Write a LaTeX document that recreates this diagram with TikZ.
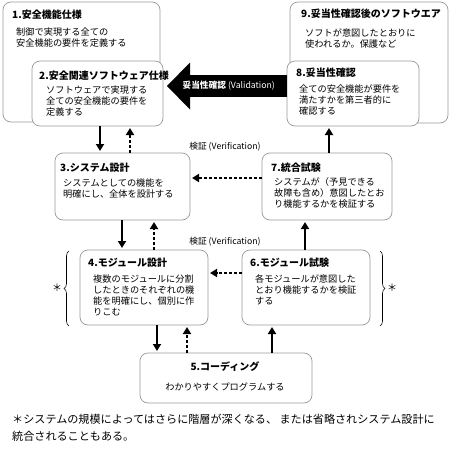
\documentclass[tikz,border=0pt]{standalone}
\usepackage{fontspec}
\setmainfont{Noto Sans CJK JP}
\usetikzlibrary{arrows.meta,decorations.pathreplacing}
\tikzset{
  stage/.style={rectangle, draw=black!40, line width=0.7pt, rounded corners=8pt, fill=white, anchor=north west, inner sep=0pt, outer sep=0pt},
  stagetitle/.style={anchor=west, inner sep=0pt, font=\fontsize{10}{12}\selectfont\bfseries},
  stagetext/.style={anchor=north west, inner sep=0pt, align=left, font=\fontsize{9.2}{11}\selectfont},
  flow/.style={line width=2pt, -{Triangle[length=7pt,width=8pt]}, shorten >=2pt},
  back/.style={flow, dash pattern=on 3pt off 2pt},
  valid/.style={line width=22pt, -{Triangle[length=23pt,width=47pt,line width=0pt]}, shorten >=4pt},
  bracket/.style={decorate, decoration={brace, amplitude=5pt}, line width=0.6pt},
}
\begin{document}
\begin{tikzpicture}[x=1pt, y=-1pt]
  \useasboundingbox (0,0) rectangle (450,450);
  % Nodes
  \node (b1) [stage, minimum width=157pt, minimum height=120pt] at (3,2) {};
  \node (t1) [stagetitle] at (12,15) {1.安全機能仕様};
  \node (x1) [stagetext] at (16,27.5) {制御で実現する全ての\\安全機能の要件を定義する};
  \node (b2) [stage, minimum width=131pt, minimum height=65pt] at (32,61) {};
  \node (t2) [stagetitle] at (39,76) {2.安全関連ソフトウェア仕様};
  \node (x2) [stagetext] at (46,85.5) {ソフトウェアで実現する\\全ての安全機能の要件を\\定義する};
  \node (b9) [stage, minimum width=158pt, minimum height=121pt] at (290,2) {};
  \node (t9) [stagetitle] at (301,14) {9.妥当性確認後のソフトウエア};
  \node (x9) [stagetext] at (305,28.5) {ソフトが意図したとおりに\\使われるか。保護など};
  \node (b8) [stage, minimum width=132pt, minimum height=65pt] at (287,61) {};
  \node (t8) [stagetitle] at (296,73) {8.妥当性確認};
  \node (x8) [stagetext] at (299,84.5) {全ての安全機能が要件を\\満たすかを第三者的に\\確認する};
  \node (b3) [stage, minimum width=135pt, minimum height=67pt] at (55,153) {};
  \node (t3) [stagetitle] at (60,168) {3.システム設計};
  \node (x3) [stagetext] at (63,178.5) {システムとしての機能を\\明確にし、全体を設計する};
  \node (b7) [stage, minimum width=130pt, minimum height=67pt] at (262,153) {};
  \node (t7) [stagetitle] at (271,168) {7.統合試験};
  \node (x7) [stagetext] at (274,177.5) {システムが（予見できる\\故障も含め）意図したとお\\り機能するかを検証する};
  \node (b4) [stage, minimum width=128pt, minimum height=75pt] at (80,250) {};
  \node (t4) [stagetitle] at (88,263) {4.モジュール設計};
  \node (x4) [stagetext] at (93,274.5) {複数のモジュールに分割\\したときのそれぞれの機\\能を明確にし、個別に作\\りこむ};
  \node (b6) [stage, minimum width=128pt, minimum height=75pt] at (242,250) {};
  \node (t6) [stagetitle] at (250,263) {6.モジュール試験};
  \node (x6) [stagetext] at (255,274.5) {各モジュールが意図した\\とおり機能するかを検証\\する};
  \node (b5) [stage, minimum width=172pt, minimum height=50pt] at (140,353) {};
  \node (t5) [stagetitle, anchor=center] at (225,367) {5.コーディング};
  \node (x5) [stagetext, anchor=center] at (225,387) {わかりやすくプログラムする};
  % Labels
  \node (v1) [font=\fontsize{8.7}{10}\selectfont] at (225,147) {検証 (Verification)};
  \node (v2) [font=\fontsize{8.7}{10}\selectfont] at (225,242) {検証 (Verification)};
  \node (s1) [font=\fontsize{10}{12}\selectfont] at (57,288) {＊};
  \node (s2) [font=\fontsize{10}{12}\selectfont] at (392,288) {＊};
  \node (fn) [anchor=north west, inner sep=0pt, align=left, font=\fontsize{11.1}{17}\selectfont] at (12,414) {＊システムの規模によってはさらに階層が深くなる、 または省略されシステム設計に\\統合されることもある。};
  % Arrow
  \draw[valid] ([yshift=7.5pt]b8.west) -- ([yshift=7.5pt]b2.east)
    node[pos=0.47, text=white, font=\fontsize{8.7}{10}\selectfont] {\textbf{妥当性確認} (Validation)};
  \draw[flow] (b2.south -| 100,0) -- (b3.north -| 100,0);
  \draw[back] (b3.north -| 130,0) -- (b2.south -| 130,0);
  \draw[back] (b7.west |- 0,178) -- (b3.east |- 0,178);
  \draw[flow] (b7.north -| 329,0) -- (b8.south -| 329,0);
  \draw[flow] (b3.south -| 122,0) -- (b4.north -| 122,0);
  \draw[back] (b4.north -| 154,0) -- (b3.south -| 154,0);
  \draw[flow] (b6.north -| 305,0) -- (b7.south -| 305,0);
  \draw[back] (b6.west |- 0,273) -- (b4.east |- 0,273);
  \draw[flow] (b4.south -| 157,0) -- (b5.north -| 157,0);
  \draw[back] (b5.north -| 187,0) -- (b4.south -| 187,0);
  \draw[flow] (b5.north -| 272,0) -- (b6.south -| 272,0);
  % Braces
  \draw[bracket] (69,326) -- (69,251);
  \draw[bracket] (380,251) -- (380,326);
\end{tikzpicture}
\end{document}
